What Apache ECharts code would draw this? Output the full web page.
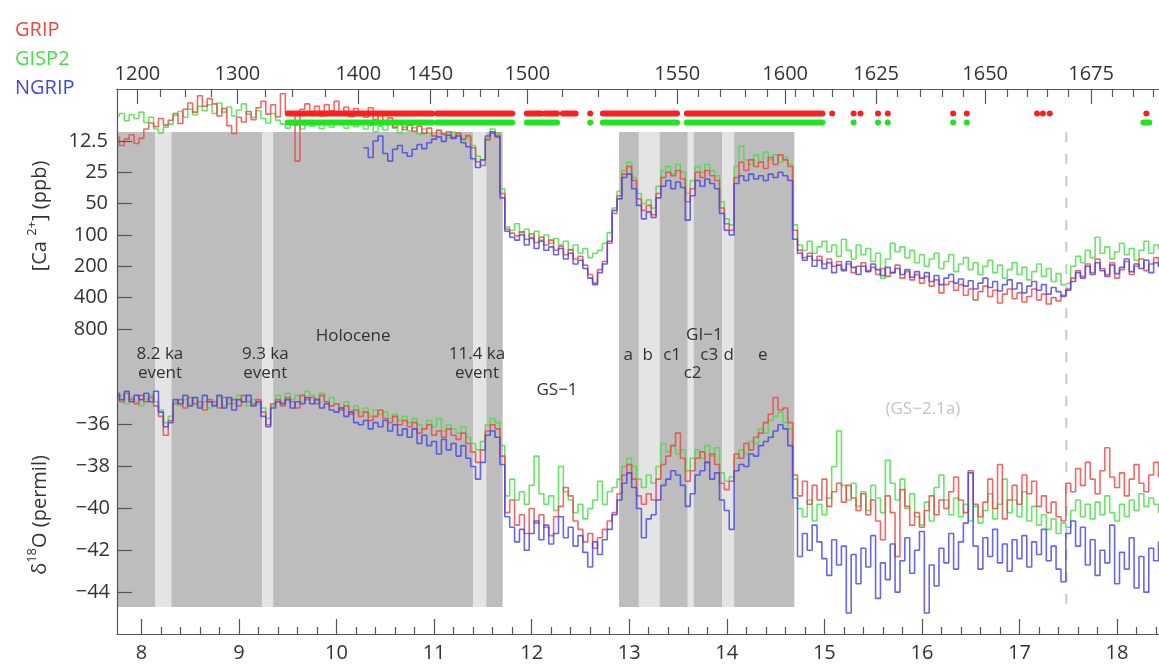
<!DOCTYPE html>
<html>
<head>
<meta charset="utf-8">
<script src="https://cdn.jsdelivr.net/npm/echarts@6/dist/echarts.min.js"></script>
<style>
  html, body { margin: 0; padding: 0; background: #fff; }
  #chart { width: 1159px; height: 665px; }
</style>
</head>
<body>
<div id="chart"></div>
<script>
// Age (ka b2k) of each 50-yr sample
const ages = [
  7.75,7.8,7.85,7.9,7.95,8,8.05,8.1,8.15,8.2,
  8.25,8.3,8.35,8.4,8.45,8.5,8.55,8.6,8.65,8.7,
  8.75,8.8,8.85,8.9,8.95,9,9.05,9.1,9.15,9.2,
  9.25,9.3,9.35,9.4,9.45,9.5,9.55,9.6,9.65,9.7,
  9.75,9.8,9.85,9.9,9.95,10,10.05,10.1,10.15,10.2,
  10.25,10.3,10.35,10.4,10.45,10.5,10.55,10.6,10.65,10.7,
  10.75,10.8,10.85,10.9,10.95,11,11.05,11.1,11.15,11.2,
  11.25,11.3,11.35,11.4,11.45,11.5,11.55,11.6,11.65,11.7,
  11.75,11.8,11.85,11.9,11.95,12,12.05,12.1,12.15,12.2,
  12.25,12.3,12.35,12.4,12.45,12.5,12.55,12.6,12.65,12.7,
  12.75,12.8,12.85,12.9,12.95,13,13.05,13.1,13.15,13.2,
  13.25,13.3,13.35,13.4,13.45,13.5,13.55,13.6,13.65,13.7,
  13.75,13.8,13.85,13.9,13.95,14,14.05,14.1,14.15,14.2,
  14.25,14.3,14.35,14.4,14.45,14.5,14.55,14.6,14.65,14.7,
  14.75,14.8,14.85,14.9,14.95,15,15.05,15.1,15.15,15.2,
  15.25,15.3,15.35,15.4,15.45,15.5,15.55,15.6,15.65,15.7,
  15.75,15.8,15.85,15.9,15.95,16,16.05,16.1,16.15,16.2,
  16.25,16.3,16.35,16.4,16.45,16.5,16.55,16.6,16.65,16.7,
  16.75,16.8,16.85,16.9,16.95,17,17.05,17.1,17.15,17.2,
  17.25,17.3,17.35,17.4,17.45,17.5,17.55,17.6,17.65,17.7,
  17.75,17.8,17.85,17.9,17.95,18,18.05,18.1,18.15,18.2,
  18.25,18.3,18.35,18.4,18.45
];

// δ18O (permil)
const gripD18O = [
  -34.6,-34.9,-34.5,-34.8,-35.0,-34.6,-34.9,-34.7,-35.1,-35.6,
  -36.5,-35.8,-35.0,-34.8,-35.2,-34.7,-35.0,-34.9,-35.3,-34.8,
  -34.9,-35.2,-34.7,-35.0,-34.8,-35.1,-34.6,-34.9,-35.0,-34.8,
  -35.4,-36.0,-35.0,-34.8,-35.1,-34.7,-34.9,-35.2,-34.6,-34.8,
  -34.7,-35.0,-34.6,-34.9,-35.1,-35.0,-35.3,-35.1,-35.5,-35.3,
  -35.6,-35.4,-35.8,-35.6,-35.3,-35.7,-35.9,-35.6,-36.0,-35.8,
  -36.1,-35.9,-36.4,-36.2,-36.0,-36.5,-36.3,-36.6,-36.2,-36.5,
  -36.7,-36.4,-36.9,-37.3,-37.8,-37.2,-36.3,-36.0,-36.2,-37.5,
  -40.2,-39.6,-40.8,-40.3,-41.2,-40.0,-40.7,-40.3,-40.9,-41.3,
  -40.4,-39.9,-39.0,-39.4,-40.6,-41.0,-41.6,-41.2,-41.9,-41.4,
  -41.0,-40.6,-40.2,-39.3,-38.4,-37.9,-38.6,-39.4,-39.8,-39.3,
  -39.6,-38.6,-37.9,-37.5,-37.0,-36.4,-37.6,-38.7,-38.2,-37.6,
  -37.3,-37.8,-37.4,-37.9,-38.8,-39.1,-38.7,-37.4,-37.6,-36.9,
  -37.2,-36.6,-36.4,-35.9,-35.5,-34.7,-35.3,-35.2,-35.9,-38.4,
  -39.4,-38.7,-39.8,-38.9,-39.6,-38.6,-39.9,-39.2,-38.8,-39.7,
  -38.9,-39.5,-40.1,-39.3,-40.3,-39.6,-40.6,-41.5,-39.4,-40.2,
  -42.3,-39.1,-39.9,-40.8,-40.2,-40.9,-40.1,-39.4,-40.3,-39.6,
  -40.0,-39.2,-38.5,-39.6,-40.2,-38.2,-39.8,-40.4,-39.7,-38.6,
  -40.0,-37.9,-40.5,-39.6,-38.9,-39.8,-38.4,-39.3,-38.7,-39.9,
  -39.4,-40.2,-39.7,-40.4,-40.6,-38.8,-39.2,-38.1,-38.9,-37.8,
  -38.6,-39.3,-38.2,-37.1,-38.5,-39.0,-38.3,-39.4,-38.6,-37.9,
  -38.8,-39.2,-38.4,-37.8,-38.5
];
const gisp2D18O = [
  -34.8,-34.6,-35.0,-34.7,-34.9,-35.1,-34.8,-34.6,-34.9,-35.3,
  -35.9,-35.6,-34.9,-35.1,-34.8,-35.0,-34.7,-35.1,-34.9,-35.2,
  -35.0,-34.7,-35.1,-34.8,-35.0,-34.6,-34.9,-35.1,-34.8,-35.0,
  -35.2,-35.7,-35.1,-34.6,-34.9,-34.5,-34.8,-34.6,-34.9,-34.4,
  -34.6,-34.8,-34.5,-34.9,-34.7,-35.0,-35.2,-34.9,-35.3,-35.1,
  -35.4,-35.2,-35.6,-35.3,-35.5,-35.4,-35.7,-35.5,-35.8,-35.6,
  -35.9,-35.7,-36.0,-36.2,-35.8,-36.1,-35.7,-36.3,-36.0,-36.2,
  -36.4,-36.1,-36.6,-36.9,-37.2,-36.8,-36.0,-35.7,-35.9,-37.0,
  -39.4,-38.6,-39.6,-39.2,-39.8,-38.9,-37.5,-39.3,-39.8,-39.4,
  -40.1,-38.0,-39.2,-39.6,-40.2,-39.8,-40.5,-40.0,-39.6,-38.7,
  -39.8,-39.2,-39.0,-38.6,-38.0,-37.6,-38.0,-38.6,-39.0,-38.4,
  -38.8,-38.0,-36.9,-37.3,-37.0,-37.4,-37.2,-38.2,-37.6,-37.2,
  -37.6,-37.0,-37.5,-37.1,-38.3,-38.7,-38.5,-37.6,-37.2,-37.4,
  -36.8,-36.9,-36.2,-36.4,-35.8,-35.6,-35.4,-35.9,-36.2,-38.6,
  -40.0,-40.4,-39.6,-40.6,-39.8,-40.3,-39.5,-38.0,-36.3,-38.9,
  -39.6,-38.8,-39.9,-39.2,-40.1,-38.9,-39.5,-40.2,-37.7,-38.8,
  -39.6,-38.6,-40.0,-39.3,-40.4,-40.8,-39.7,-40.6,-39.0,-38.4,
  -39.6,-40.3,-39.5,-40.4,-39.8,-40.6,-39.9,-40.7,-40.1,-39.3,
  -40.5,-39.8,-38.6,-40.2,-39.6,-40.4,-39.2,-40.6,-39.9,-40.8,
  -40.3,-41.0,-40.5,-41.2,-40.7,-40.9,-40.1,-39.6,-40.4,-39.8,
  -40.5,-39.7,-40.3,-39.4,-40.2,-40.6,-39.8,-40.4,-39.6,-40.1,
  -39.3,-39.9,-39.5,-39.8,-40.2
];
const ngripD18O = [
  -34.5,-34.8,-34.4,-34.9,-34.6,-34.8,-34.5,-34.9,-34.4,-35.4,
  -36.1,-35.9,-34.8,-35.0,-34.6,-35.1,-34.7,-35.2,-34.6,-34.9,
  -35.1,-34.6,-35.2,-34.7,-35.3,-34.8,-34.9,-34.6,-35.1,-34.9,
  -35.6,-36.1,-35.2,-34.9,-35.0,-34.8,-35.2,-34.9,-35.0,-34.7,
  -35.0,-34.8,-35.2,-35.0,-35.3,-35.4,-35.2,-35.6,-35.4,-35.9,
  -36.0,-35.8,-36.2,-35.9,-36.1,-35.8,-36.3,-36.0,-36.5,-36.2,
  -36.6,-36.2,-36.9,-36.5,-37.0,-36.8,-37.4,-36.7,-37.2,-36.9,
  -37.5,-37.0,-37.6,-38.0,-38.6,-37.8,-36.5,-36.3,-36.6,-37.9,
  -40.4,-40.9,-41.6,-41.0,-42.0,-41.2,-40.6,-41.5,-40.8,-41.7,
  -41.2,-40.4,-41.4,-40.9,-41.8,-41.3,-42.1,-42.8,-41.6,-42.2,
  -41.5,-41.0,-40.3,-39.6,-38.8,-38.3,-39.0,-40.0,-41.4,-40.5,
  -40.3,-39.6,-38.9,-38.6,-38.2,-38.4,-38.9,-39.9,-39.3,-38.4,
  -38.2,-37.8,-38.6,-38.3,-39.6,-40.1,-41.0,-38.2,-37.9,-38.0,
  -37.4,-37.5,-37.0,-36.8,-36.6,-36.3,-36.0,-36.2,-37.0,-39.5,
  -42.3,-41.2,-42.0,-40.8,-41.6,-42.4,-43.2,-41.5,-42.7,-41.8,
  -45.0,-42.2,-43.6,-41.9,-42.8,-41.3,-44.3,-42.6,-43.4,-41.7,
  -44.0,-42.5,-41.4,-43.1,-42.0,-41.1,-45.0,-42.7,-43.7,-41.9,
  -42.6,-41.2,-42.9,-41.6,-40.7,-38.3,-41.8,-42.9,-41.4,-42.3,
  -41.0,-42.6,-41.7,-43.0,-41.5,-42.4,-41.3,-42.8,-41.6,-42.2,
  -41.0,-42.5,-41.8,-42.9,-43.5,-41.2,-40.6,-41.8,-40.9,-42.7,
  -41.5,-43.2,-42.0,-42.6,-40.8,-43.6,-42.1,-42.9,-41.4,-43.8,
  -42.3,-44.0,-41.9,-42.5,-41.6
];

// [Ca2+] (ppb)
const gripCa = [
  11.5,13.8,12.0,10.9,13.2,11.8,9.6,8.4,9.1,7.6,
  8.8,7.9,6.8,8.5,6.2,5.4,6.6,4.6,5.8,4.9,
  5.5,7.2,6.1,8.9,10.6,7.4,8.2,6.5,7.8,6.0,
  5.2,6.9,5.6,7.3,4.4,6.6,6.8,19.5,6.2,5.5,
  6.9,5.8,7.2,5.6,6.4,5.2,6.8,5.9,7.3,6.1,
  6.6,7.4,6.0,7.8,6.9,8.6,7.5,9.2,8.1,9.7,
  8.8,10.1,9.0,10.6,9.4,11.2,9.9,10.8,10.2,11.5,
  10.5,12.0,11.1,14.5,19.8,21.5,12.2,10.5,11.0,40,
  88,96,102,93,110,98,118,105,125,112,
  140,128,155,138,170,160,195,240,290,215,
  180,120,62,42,26,22,30,45,58,52,
  64,40,28,25,27,24,29,48,36,25,
  28,24,27,30,55,78,90,28,20,24,
  19,22,20,23,18,21,17,19,22,90,
  140,165,150,175,160,190,170,200,180,215,
  190,230,200,185,220,205,240,210,250,230,
  195,260,225,270,240,290,250,310,270,360,
  300,280,340,300,380,330,420,350,310,390,
  340,450,370,330,410,360,440,390,330,420,
  370,460,400,430,380,330,260,220,250,190,
  230,170,210,240,185,260,215,180,240,200,
  170,220,190,165,200
];
const gisp2Ca = [
  7.2,6.8,8.0,7.0,7.6,6.6,8.3,7.4,9.6,10.5,
  9.2,8.6,7.1,6.5,7.4,6.2,7.0,5.8,6.4,5.6,
  6.8,5.4,6.6,5.9,7.2,6.3,5.5,6.9,7.4,6.4,
  7.6,8.4,6.8,7.9,8.6,9.4,8.2,8.8,9.6,8.4,
  9.0,8.2,9.5,8.6,9.2,8.0,8.7,9.4,8.3,9.1,
  8.5,9.6,8.8,10.2,9.0,9.8,8.6,9.4,10.5,9.2,
  10.0,9.3,10.8,9.6,10.4,11.2,9.8,10.6,11.6,10.3,
  11.0,12.3,11.4,13.8,17.5,19.0,11.8,9.6,10.4,36,
  84,90,78,95,88,105,92,112,100,120,
  108,125,115,140,125,150,135,165,150,140,
  120,95,55,38,24,20,28,40,50,46,
  55,34,24,22,26,21,25,40,30,22,
  25,21,24,27,48,70,80,22,14,19,
  21,17,20,16,19,17,20,18,21,80,
  125,140,115,150,130,115,145,125,160,110,
  140,170,125,155,135,180,150,260,170,120,
  145,130,165,140,185,155,200,170,150,210,
  180,155,225,190,165,215,185,240,200,175,
  230,195,260,215,185,240,205,270,225,190,
  250,210,280,235,300,290,200,160,185,140,
  165,105,150,130,170,145,120,155,135,175,
  140,115,150,125,135
];
const ngripCa = [
  null,null,null,null,null,null,null,null,null,null,
  null,null,null,null,null,null,null,null,null,null,
  null,null,null,null,null,null,null,null,null,null,
  null,null,null,null,null,null,null,null,null,null,
  null,null,null,null,null,null,null,null,null,null,
  null,14.5,18.0,12.5,11.2,16.5,19.5,15.0,13.8,16.2,
  17.5,15.0,13.5,14.8,13.0,12.0,11.4,12.6,11.0,11.8,
  11.2,13.0,14.2,18.5,22.5,19.0,11.2,10.2,11.4,44,
  92,105,112,100,125,108,135,115,140,130,
  155,135,170,150,190,175,210,260,300,230,
  190,115,58,45,28,26,36,52,70,60,
  68,44,34,30,36,31,35,72,42,30,
  34,29,32,36,62,90,100,32,27,30,
  26,29,27,30,26,28,25,27,30,110,
  150,175,160,200,175,210,185,230,195,220,
  180,205,240,200,225,190,215,245,205,230,
  210,240,215,255,225,260,230,280,245,300,
  260,240,290,265,310,275,330,290,260,320,
  280,345,300,270,330,290,360,310,280,340,
  300,370,320,350,390,340,280,230,260,200,
  240,185,220,250,195,235,205,170,225,190,
  210,175,230,185,200
];

// Ice-core match points (age spans, ka)
const gripTies = [
  [9.50,10.98],[11.03,11.80],[11.95,12.10],[12.14,12.26],[12.32,12.45],[12.60,12.60],
  [12.73,13.49],[13.59,14.98],[15.08,15.08],[15.30,15.30],[15.37,15.37],[15.55,15.55],
  [15.65,15.65],[16.32,16.32],[16.46,16.46],[17.18,17.18],[17.24,17.24],[17.31,17.31],[18.30,18.30]
];
const gisp2Ties = [
  [9.50,10.98],[11.03,11.80],[11.95,12.26],[12.60,12.60],[12.73,13.49],[13.59,14.98],
  [15.30,15.30],[15.55,15.55],[15.65,15.65],[16.32,16.32],[16.46,16.46],[18.27,18.33]
];

// Climate periods: [start, end, kind] (kind 1 = warm period, 0 = short event)
const periods = [
  [7.75,8.143,1],[8.143,8.307,0],[8.307,9.24,1],[9.24,9.35,0],[9.35,11.40,1],
  [11.40,11.535,0],[11.535,11.703,1],
  [12.896,13.099,1],[13.099,13.311,0],[13.311,13.600,1],[13.600,13.660,0],
  [13.660,13.954,1],[13.954,14.075,0],[14.075,14.692,1]
];
const gs21aOnset = [17.48];

// Bottom axis (age, ka)
const ageLabels = [8,9,10,11,12,13,14,15,16,17,18];
const ageMinor = [8.2,8.4,8.6,8.8,9.2,9.4,9.6,9.8,10.2,10.4,10.6,10.8,11.2,11.4,11.6,11.8,
  12.2,12.4,12.6,12.8,13.2,13.4,13.6,13.8,14.2,14.4,14.6,14.8,15.2,15.4,15.6,15.8,
  16.2,16.4,16.6,16.8,17.2,17.4,17.6,17.8,18.2,18.4];

// Top axis (NGRIP depth, m) and the ages where those depths fall
const depthLabels = [1200,1300,1400,1450,1500,1550,1600,1625,1650,1675];
const depthLabelAges = [7.959,8.984,10.223,10.961,11.955,13.492,14.598,15.531,16.648,17.734];
const depthMinorAges = [8.195,8.451,8.717,9.270,9.547,9.885,10.582,11.135,11.299,11.473,11.658,
  12.314,12.682,12.980,13.266,13.707,13.932,14.189,14.414,14.701,14.885,15.080,15.295,
  15.746,15.982,16.207,16.422,16.873,17.078,17.283,17.498,17.949,18.164,18.369];

// Left axes
const caTicks = [12.5,25,50,100,200,400,800];
const d18OTicks = [-36,-38,-40,-42,-44];

// Period annotations: text, age, vertical position in δ18O units
const annotations = [
  ['Holocene',10.17,-31.75,'#333'],
  ['8.2 ka\nevent',8.19,-33.1,'#333'],
  ['9.3 ka\nevent',9.27,-33.1,'#333'],
  ['11.4 ka\nevent',11.44,-33.1,'#333'],
  ['GS\u22121',12.26,-34.33,'#333'],
  ['GI\u22121',13.77,-31.7,'#333'],
  ['a',12.99,-32.66,'#333'],['b',13.19,-32.66,'#333'],['c1',13.44,-32.66,'#333'],
  ['c3',13.82,-32.66,'#333'],['d',14.02,-32.66,'#333'],['e',14.37,-32.66,'#333'],
  ['c2',13.65,-33.55,'#333'],
  ['(GS\u22122.1a)',16.01,-35.28,'#c4c4c4']
];

const FONT = "'Open Sans', 'DejaVu Sans', sans-serif";
const AXIS_COLOR = '#555';
const TEXT_COLOR = '#333';
const COLORS = { GRIP: '#ef4646', GISP2: '#48de48', NGRIP: '#4646e6' };
const XMIN = 7.75, XMAX = 18.43;

const chart = echarts.init(document.getElementById('chart'), null, { renderer: 'canvas' });

const gridBase = { left: 117, right: 0, containLabel: false };
function hiddenX(gridIndex) {
  return { type: 'value', gridIndex, min: XMIN, max: XMAX, show: false };
}
function lineSeries(name, values, xAxisIndex, yAxisIndex) {
  return {
    name, type: 'line', xAxisIndex, yAxisIndex,
    data: ages.map((a, i) => [a, values[i]]),
    step: 'middle', symbol: 'none', silent: true, z: 3,
    lineStyle: { color: COLORS[name], width: 1.6, opacity: 0.82 },
    itemStyle: { color: COLORS[name] }
  };
}
function tieSeries(name, segments, row) {
  return {
    type: 'custom', xAxisIndex: 6, yAxisIndex: 3, silent: true, z: 5,
    data: segments, encode: { x: [0, 1] },
    renderItem: (params, api) => {
      const a = api.coord([api.value(0), row]);
      const b = api.coord([api.value(1), row]);
      return { type: 'rect', shape: { x: a[0] - 3, y: a[1] - 3, width: b[0] - a[0] + 6, height: 6, r: 3 },
               style: { fill: name === 'GRIP' ? '#ff1e1e' : '#1ee61e' } };
    }
  };
}
const tickText = { fontFamily: FONT, fontSize: 20, color: TEXT_COLOR };

const option = {
  animation: false,
  backgroundColor: '#fff',
  legend: {
    orient: 'vertical', left: 5, top: 14, itemWidth: 0, itemHeight: 20, itemGap: 7,
    icon: 'none', selectedMode: false,
    textStyle: { fontFamily: FONT, fontSize: 20, lineHeight: 22 },
    data: ['GRIP', 'GISP2', 'NGRIP'].map(n => ({ name: n, textStyle: { color: COLORS[n] } }))
  },
  grid: [
    Object.assign({ top: 89, height: 252 }, gridBase),   // Ca
    Object.assign({ top: 341, height: 293 }, gridBase),  // δ18O
    Object.assign({ top: 132, height: 475 }, gridBase),  // period shading
    Object.assign({ top: 109, height: 18 }, gridBase)    // match points
  ],
  xAxis: [
    hiddenX(0),
    { // depth, labelled ticks
      type: 'value', gridIndex: 0, position: 'top', min: XMIN, max: XMAX, z: 10,
      axisLine: { show: true, lineStyle: { color: AXIS_COLOR, width: 1.2 } },
      axisTick: { show: true, inside: true, length: 15, customValues: depthLabelAges, lineStyle: { color: AXIS_COLOR, width: 1.2 } },
      axisLabel: {
        show: true, margin: 5, customValues: depthLabelAges, ...tickText,
        formatter: v => {
          let best = 0;
          depthLabelAges.forEach((a, i) => { if (Math.abs(a - v) < Math.abs(depthLabelAges[best] - v)) best = i; });
          return String(depthLabels[best]);
        }
      },
      splitLine: { show: false }
    },
    { // depth, minor ticks
      type: 'value', gridIndex: 0, position: 'top', min: XMIN, max: XMAX, z: 10,
      axisLine: { show: false },
      axisTick: { show: true, inside: true, length: 8, customValues: depthMinorAges, lineStyle: { color: AXIS_COLOR, width: 1.2 } },
      axisLabel: { show: false }, splitLine: { show: false }
    },
    { // age
      type: 'value', gridIndex: 1, position: 'bottom', min: XMIN, max: XMAX, z: 10,
      axisLine: { show: true, lineStyle: { color: AXIS_COLOR, width: 1.2 } },
      axisTick: { show: true, inside: true, length: 15, customValues: ageLabels, lineStyle: { color: AXIS_COLOR, width: 1.2 } },
      axisLabel: { show: true, margin: 9, customValues: ageLabels, ...tickText, formatter: v => String(Math.round(v)) },
      splitLine: { show: false }
    },
    { // age, minor ticks
      type: 'value', gridIndex: 1, position: 'bottom', min: XMIN, max: XMAX, z: 10,
      axisLine: { show: false },
      axisTick: { show: true, inside: true, length: 7, customValues: ageMinor, lineStyle: { color: AXIS_COLOR, width: 1.2 } },
      axisLabel: { show: false }, splitLine: { show: false }
    },
    hiddenX(2),
    hiddenX(3)
  ],
  yAxis: [
    { // Ca, log scale, reversed
      type: 'log', logBase: 2, gridIndex: 0, inverse: true, min: 3.957, max: 1044, z: 10,
      axisLine: { show: true, lineStyle: { color: AXIS_COLOR, width: 1.2 } },
      axisTick: { show: true, inside: true, length: 15, customValues: caTicks, lineStyle: { color: AXIS_COLOR, width: 1.2 } },
      axisLabel: { show: true, margin: 9, customValues: caTicks, ...tickText,
        formatter: v => String(Math.round(v * 10) / 10) },
      splitLine: { show: false }, minorTick: { show: false }
    },
    { // δ18O
      type: 'value', gridIndex: 1, min: -46, max: -32, z: 10,
      axisLine: { show: true, lineStyle: { color: AXIS_COLOR, width: 1.2 } },
      axisTick: { show: true, inside: true, length: 15, customValues: d18OTicks, lineStyle: { color: AXIS_COLOR, width: 1.2 } },
      axisLabel: { show: true, margin: 7, customValues: d18OTicks, ...tickText,
        formatter: v => '\u2212' + Math.abs(Math.round(v)) },
      splitLine: { show: false }
    },
    { type: 'value', gridIndex: 2, min: 0, max: 1, show: false },
    { type: 'category', gridIndex: 3, data: ['GRIP', 'GISP2'], inverse: true, show: false }
  ],
  graphic: [
    {
      type: 'text', x: 40, y: 216, rotation: Math.PI / 2, silent: true,
      style: {
        text: '[Ca {sup|2+}] (ppb)', fill: TEXT_COLOR, fontFamily: FONT, fontSize: 20,
        align: 'center', verticalAlign: 'middle', lineHeight: 28,
        rich: { sup: { fontSize: 13, fontFamily: FONT, fill: TEXT_COLOR, verticalAlign: 'top', lineHeight: 28 } }
      }
    },
    {
      type: 'text', x: 40, y: 515, rotation: Math.PI / 2, silent: true,
      style: {
        text: 'δ{sup|18}O (permil)', fill: TEXT_COLOR, fontFamily: FONT, fontSize: 20,
        align: 'center', verticalAlign: 'middle', lineHeight: 28,
        rich: { sup: { fontSize: 13, fontFamily: FONT, fill: TEXT_COLOR, verticalAlign: 'top', lineHeight: 28 } }
      }
    }
  ],
  series: [
    { // period shading
      type: 'custom', xAxisIndex: 5, yAxisIndex: 2, silent: true, z: 1,
      data: periods, encode: { x: [0, 1] },
      renderItem: (params, api) => {
        const p0 = api.coord([api.value(0), 1]);
        const p1 = api.coord([api.value(1), 0]);
        return { type: 'rect', shape: { x: p0[0], y: p0[1], width: p1[0] - p0[0], height: p1[1] - p0[1] },
                 style: { fill: api.value(2) === 1 ? '#bdbdbd' : '#e4e4e4' } };
      }
    },
    { // GS-2.1a onset
      type: 'custom', xAxisIndex: 5, yAxisIndex: 2, silent: true, z: 1,
      data: gs21aOnset.map(a => [a]), encode: { x: 0 },
      renderItem: (params, api) => {
        const top = api.coord([api.value(0), 1]);
        const bot = api.coord([api.value(0), 0]);
        return { type: 'line', shape: { x1: top[0], y1: top[1], x2: bot[0], y2: bot[1] },
                 style: { stroke: '#c8c8c8', lineWidth: 2, lineDash: [10, 12] } };
      }
    },
    lineSeries('GISP2', gisp2Ca, 0, 0),
    lineSeries('GRIP', gripCa, 0, 0),
    lineSeries('NGRIP', ngripCa, 0, 0),
    lineSeries('GISP2', gisp2D18O, 3, 1),
    lineSeries('GRIP', gripD18O, 3, 1),
    lineSeries('NGRIP', ngripD18O, 3, 1),
    tieSeries('GRIP', gripTies, 0),
    tieSeries('GISP2', gisp2Ties, 1),
    { // period names
      type: 'custom', xAxisIndex: 3, yAxisIndex: 1, silent: true, z: 6, clip: false,
      data: annotations.map(a => [a[1], a[2]]), encode: { x: 0, y: 1 },
      renderItem: (params, api) => {
        const p = api.coord([api.value(0), api.value(1)]);
        const a = annotations[params.dataIndex];
        return { type: 'text', x: p[0], y: p[1],
                 style: { text: a[0], fill: a[3], fontFamily: FONT, fontSize: 17, lineHeight: 19,
                          align: 'center', verticalAlign: 'middle' } };
      }
    }
  ]
};

chart.setOption(option);
</script>
</body>
</html>
